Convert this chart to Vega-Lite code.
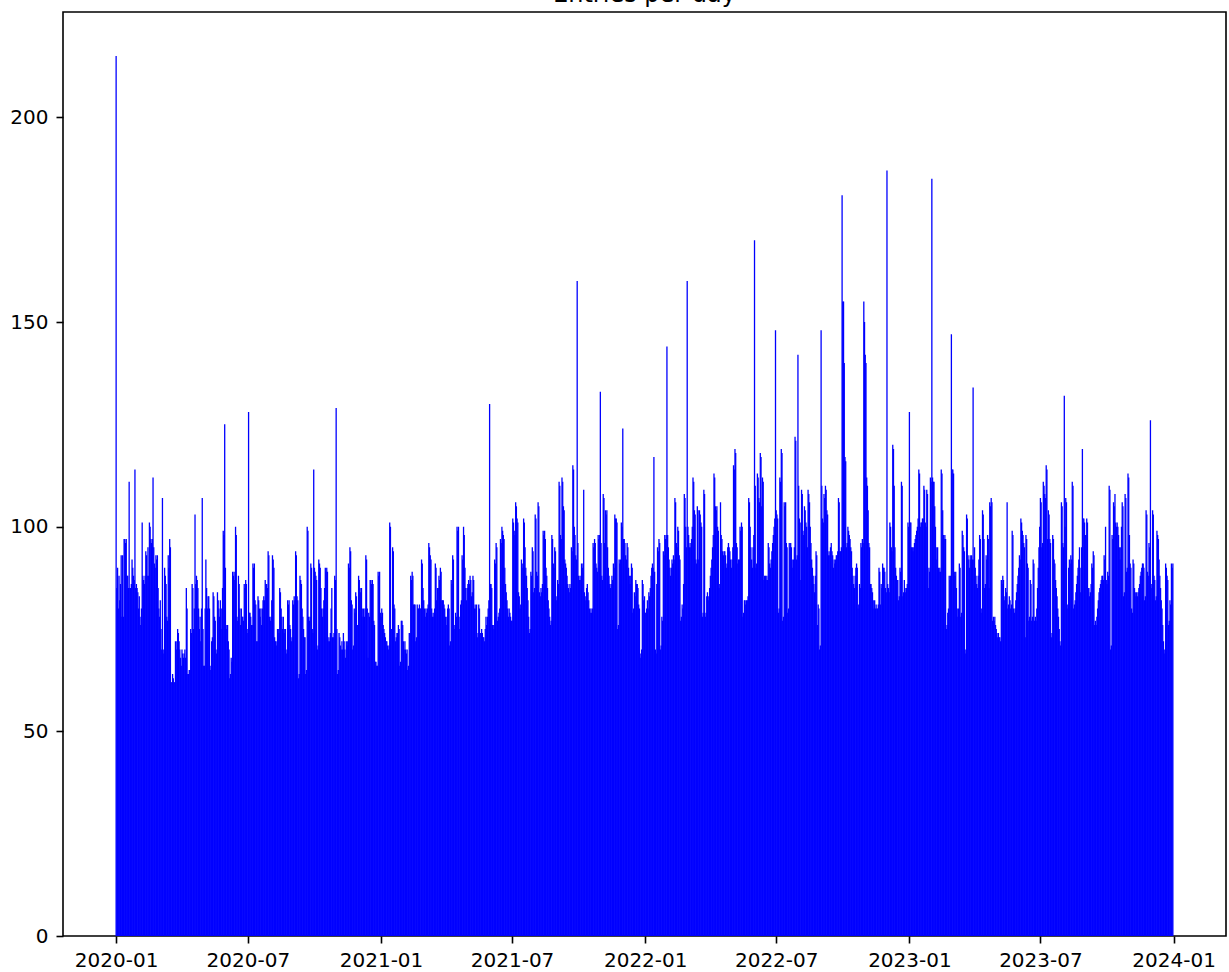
{"$schema":"https://vega.github.io/schema/vega-lite/v6.json","width":1163,"height":924,"autosize":{"type":"none"},"padding":{"left":63,"top":12,"right":3,"bottom":36},"background":"white",
"title":{"text":"Entries per day","font":"DejaVu Sans","fontSize":24,"fontWeight":"normal","color":"black","anchor":"middle","baseline":"alphabetic","offset":-14},
"config":{"view":{"stroke":"black","strokeWidth":1.6},"axis":{"domain":false,"grid":false,"ticks":true,"tickColor":"black","tickWidth":1.6,"tickSize":7,"labelFont":"DejaVu Sans","labelFontSize":20,"labelColor":"black","title":null,"labelOverlap":false,"labelFlush":false}},
"data":{"values":[
{"d":"2020-01-01","v":215},{"d":"2020-01-02","v":85},{"d":"2020-01-03","v":90},{"d":"2020-01-04","v":80},{"d":"2020-01-05","v":88},{"d":"2020-01-06","v":82},{"d":"2020-01-07","v":86},{"d":"2020-01-08","v":93},{"d":"2020-01-09","v":78},{"d":"2020-01-10","v":93},{"d":"2020-01-11","v":78},{"d":"2020-01-12","v":97},{"d":"2020-01-13","v":97},{"d":"2020-01-14","v":96},{"d":"2020-01-15","v":97},{"d":"2020-01-16","v":88},{"d":"2020-01-17","v":88},{"d":"2020-01-18","v":85},{"d":"2020-01-19","v":111},{"d":"2020-01-20","v":85},{"d":"2020-01-21","v":85},{"d":"2020-01-22","v":86},{"d":"2020-01-23","v":92},{"d":"2020-01-24","v":90},{"d":"2020-01-25","v":88},{"d":"2020-01-26","v":87},{"d":"2020-01-27","v":114},{"d":"2020-01-28","v":85},{"d":"2020-01-29","v":86},{"d":"2020-01-30","v":85},{"d":"2020-01-31","v":84},
{"d":"2020-02-01","v":80},{"d":"2020-02-02","v":83},{"d":"2020-02-03","v":78},{"d":"2020-02-04","v":76},{"d":"2020-02-05","v":80},{"d":"2020-02-06","v":101},{"d":"2020-02-07","v":88},{"d":"2020-02-08","v":87},{"d":"2020-02-09","v":86},{"d":"2020-02-10","v":88},{"d":"2020-02-11","v":94},{"d":"2020-02-12","v":93},{"d":"2020-02-13","v":88},{"d":"2020-02-14","v":95},{"d":"2020-02-15","v":88},{"d":"2020-02-16","v":101},{"d":"2020-02-17","v":100},{"d":"2020-02-18","v":97},{"d":"2020-02-19","v":96},{"d":"2020-02-20","v":97},{"d":"2020-02-21","v":112},{"d":"2020-02-22","v":95},{"d":"2020-02-23","v":91},{"d":"2020-02-24","v":90},{"d":"2020-02-25","v":93},{"d":"2020-02-26","v":92},{"d":"2020-02-27","v":93},{"d":"2020-02-28","v":85},{"d":"2020-02-29","v":80},
{"d":"2020-03-01","v":78},{"d":"2020-03-02","v":82},{"d":"2020-03-03","v":75},{"d":"2020-03-04","v":70},{"d":"2020-03-05","v":107},{"d":"2020-03-06","v":70},{"d":"2020-03-07","v":69},{"d":"2020-03-08","v":90},{"d":"2020-03-09","v":88},{"d":"2020-03-10","v":86},{"d":"2020-03-11","v":78},{"d":"2020-03-12","v":77},{"d":"2020-03-13","v":93},{"d":"2020-03-14","v":90},{"d":"2020-03-15","v":97},{"d":"2020-03-16","v":95},{"d":"2020-03-17","v":62},{"d":"2020-03-18","v":62},{"d":"2020-03-19","v":64},{"d":"2020-03-20","v":63},{"d":"2020-03-21","v":62},{"d":"2020-03-22","v":62},{"d":"2020-03-23","v":72},{"d":"2020-03-24","v":70},{"d":"2020-03-25","v":72},{"d":"2020-03-26","v":75},{"d":"2020-03-27","v":74},{"d":"2020-03-28","v":72},{"d":"2020-03-29","v":70},{"d":"2020-03-30","v":68},{"d":"2020-03-31","v":66},
{"d":"2020-04-01","v":70},{"d":"2020-04-02","v":69},{"d":"2020-04-03","v":68},{"d":"2020-04-04","v":69},{"d":"2020-04-05","v":70},{"d":"2020-04-06","v":68},{"d":"2020-04-07","v":85},{"d":"2020-04-08","v":80},{"d":"2020-04-09","v":64},{"d":"2020-04-10","v":64},{"d":"2020-04-11","v":65},{"d":"2020-04-12","v":65},{"d":"2020-04-13","v":75},{"d":"2020-04-14","v":74},{"d":"2020-04-15","v":86},{"d":"2020-04-16","v":85},{"d":"2020-04-17","v":75},{"d":"2020-04-18","v":80},{"d":"2020-04-19","v":103},{"d":"2020-04-20","v":86},{"d":"2020-04-21","v":88},{"d":"2020-04-22","v":87},{"d":"2020-04-23","v":85},{"d":"2020-04-24","v":80},{"d":"2020-04-25","v":75},{"d":"2020-04-26","v":78},{"d":"2020-04-27","v":72},{"d":"2020-04-28","v":80},{"d":"2020-04-29","v":107},{"d":"2020-04-30","v":75},
{"d":"2020-05-01","v":66},{"d":"2020-05-02","v":66},{"d":"2020-05-03","v":80},{"d":"2020-05-04","v":92},{"d":"2020-05-05","v":85},{"d":"2020-05-06","v":80},{"d":"2020-05-07","v":83},{"d":"2020-05-08","v":83},{"d":"2020-05-09","v":80},{"d":"2020-05-10","v":65},{"d":"2020-05-11","v":66},{"d":"2020-05-12","v":72},{"d":"2020-05-13","v":73},{"d":"2020-05-14","v":84},{"d":"2020-05-15","v":83},{"d":"2020-05-16","v":78},{"d":"2020-05-17","v":77},{"d":"2020-05-18","v":70},{"d":"2020-05-19","v":69},{"d":"2020-05-20","v":84},{"d":"2020-05-21","v":82},{"d":"2020-05-22","v":80},{"d":"2020-05-23","v":78},{"d":"2020-05-24","v":82},{"d":"2020-05-25","v":75},{"d":"2020-05-26","v":80},{"d":"2020-05-27","v":85},{"d":"2020-05-28","v":99},{"d":"2020-05-29","v":98},{"d":"2020-05-30","v":125},{"d":"2020-05-31","v":90},
{"d":"2020-06-01","v":76},{"d":"2020-06-02","v":75},{"d":"2020-06-03","v":76},{"d":"2020-06-04","v":72},{"d":"2020-06-05","v":70},{"d":"2020-06-06","v":63},{"d":"2020-06-07","v":64},{"d":"2020-06-08","v":68},{"d":"2020-06-09","v":67},{"d":"2020-06-10","v":89},{"d":"2020-06-11","v":88},{"d":"2020-06-12","v":89},{"d":"2020-06-13","v":87},{"d":"2020-06-14","v":100},{"d":"2020-06-15","v":98},{"d":"2020-06-16","v":78},{"d":"2020-06-17","v":77},{"d":"2020-06-18","v":88},{"d":"2020-06-19","v":86},{"d":"2020-06-20","v":80},{"d":"2020-06-21","v":76},{"d":"2020-06-22","v":80},{"d":"2020-06-23","v":78},{"d":"2020-06-24","v":78},{"d":"2020-06-25","v":77},{"d":"2020-06-26","v":86},{"d":"2020-06-27","v":85},{"d":"2020-06-28","v":87},{"d":"2020-06-29","v":86},{"d":"2020-06-30","v":75},
{"d":"2020-07-01","v":74},{"d":"2020-07-02","v":128},{"d":"2020-07-03","v":79},{"d":"2020-07-04","v":79},{"d":"2020-07-05","v":78},{"d":"2020-07-06","v":76},{"d":"2020-07-07","v":76},{"d":"2020-07-08","v":91},{"d":"2020-07-09","v":90},{"d":"2020-07-10","v":91},{"d":"2020-07-11","v":82},{"d":"2020-07-12","v":81},{"d":"2020-07-13","v":72},{"d":"2020-07-14","v":72},{"d":"2020-07-15","v":83},{"d":"2020-07-16","v":82},{"d":"2020-07-17","v":80},{"d":"2020-07-18","v":78},{"d":"2020-07-19","v":80},{"d":"2020-07-20","v":76},{"d":"2020-07-21","v":80},{"d":"2020-07-22","v":82},{"d":"2020-07-23","v":83},{"d":"2020-07-24","v":82},{"d":"2020-07-25","v":87},{"d":"2020-07-26","v":86},{"d":"2020-07-27","v":86},{"d":"2020-07-28","v":85},{"d":"2020-07-29","v":94},{"d":"2020-07-30","v":93},{"d":"2020-07-31","v":78},
{"d":"2020-08-01","v":77},{"d":"2020-08-02","v":78},{"d":"2020-08-03","v":82},{"d":"2020-08-04","v":93},{"d":"2020-08-05","v":92},{"d":"2020-08-06","v":90},{"d":"2020-08-07","v":73},{"d":"2020-08-08","v":72},{"d":"2020-08-09","v":72},{"d":"2020-08-10","v":71},{"d":"2020-08-11","v":75},{"d":"2020-08-12","v":75},{"d":"2020-08-13","v":74},{"d":"2020-08-14","v":85},{"d":"2020-08-15","v":84},{"d":"2020-08-16","v":80},{"d":"2020-08-17","v":78},{"d":"2020-08-18","v":75},{"d":"2020-08-19","v":78},{"d":"2020-08-20","v":74},{"d":"2020-08-21","v":75},{"d":"2020-08-22","v":75},{"d":"2020-08-23","v":69},{"d":"2020-08-24","v":70},{"d":"2020-08-25","v":82},{"d":"2020-08-26","v":81},{"d":"2020-08-27","v":82},{"d":"2020-08-28","v":76},{"d":"2020-08-29","v":75},{"d":"2020-08-30","v":72},{"d":"2020-08-31","v":73},
{"d":"2020-09-01","v":82},{"d":"2020-09-02","v":81},{"d":"2020-09-03","v":83},{"d":"2020-09-04","v":82},{"d":"2020-09-05","v":94},{"d":"2020-09-06","v":93},{"d":"2020-09-07","v":83},{"d":"2020-09-08","v":82},{"d":"2020-09-09","v":63},{"d":"2020-09-10","v":64},{"d":"2020-09-11","v":88},{"d":"2020-09-12","v":87},{"d":"2020-09-13","v":86},{"d":"2020-09-14","v":80},{"d":"2020-09-15","v":78},{"d":"2020-09-16","v":75},{"d":"2020-09-17","v":73},{"d":"2020-09-18","v":73},{"d":"2020-09-19","v":64},{"d":"2020-09-20","v":65},{"d":"2020-09-21","v":100},{"d":"2020-09-22","v":99},{"d":"2020-09-23","v":78},{"d":"2020-09-24","v":77},{"d":"2020-09-25","v":78},{"d":"2020-09-26","v":91},{"d":"2020-09-27","v":90},{"d":"2020-09-28","v":75},{"d":"2020-09-29","v":74},{"d":"2020-09-30","v":114},
{"d":"2020-10-01","v":90},{"d":"2020-10-02","v":89},{"d":"2020-10-03","v":88},{"d":"2020-10-04","v":87},{"d":"2020-10-05","v":70},{"d":"2020-10-06","v":71},{"d":"2020-10-07","v":92},{"d":"2020-10-08","v":91},{"d":"2020-10-09","v":90},{"d":"2020-10-10","v":85},{"d":"2020-10-11","v":80},{"d":"2020-10-12","v":78},{"d":"2020-10-13","v":80},{"d":"2020-10-14","v":82},{"d":"2020-10-15","v":85},{"d":"2020-10-16","v":90},{"d":"2020-10-17","v":89},{"d":"2020-10-18","v":90},{"d":"2020-10-19","v":89},{"d":"2020-10-20","v":72},{"d":"2020-10-21","v":73},{"d":"2020-10-22","v":72},{"d":"2020-10-23","v":74},{"d":"2020-10-24","v":80},{"d":"2020-10-25","v":85},{"d":"2020-10-26","v":73},{"d":"2020-10-27","v":73},{"d":"2020-10-28","v":74},{"d":"2020-10-29","v":88},{"d":"2020-10-30","v":87},{"d":"2020-10-31","v":129},
{"d":"2020-11-01","v":75},{"d":"2020-11-02","v":64},{"d":"2020-11-03","v":65},{"d":"2020-11-04","v":74},{"d":"2020-11-05","v":73},{"d":"2020-11-06","v":71},{"d":"2020-11-07","v":70},{"d":"2020-11-08","v":72},{"d":"2020-11-09","v":70},{"d":"2020-11-10","v":74},{"d":"2020-11-11","v":72},{"d":"2020-11-12","v":70},{"d":"2020-11-13","v":68},{"d":"2020-11-14","v":72},{"d":"2020-11-15","v":71},{"d":"2020-11-16","v":72},{"d":"2020-11-17","v":91},{"d":"2020-11-18","v":90},{"d":"2020-11-19","v":95},{"d":"2020-11-20","v":94},{"d":"2020-11-21","v":82},{"d":"2020-11-22","v":81},{"d":"2020-11-23","v":70},{"d":"2020-11-24","v":71},{"d":"2020-11-25","v":80},{"d":"2020-11-26","v":79},{"d":"2020-11-27","v":84},{"d":"2020-11-28","v":83},{"d":"2020-11-29","v":76},{"d":"2020-11-30","v":76},
{"d":"2020-12-01","v":88},{"d":"2020-12-02","v":87},{"d":"2020-12-03","v":85},{"d":"2020-12-04","v":84},{"d":"2020-12-05","v":85},{"d":"2020-12-06","v":80},{"d":"2020-12-07","v":78},{"d":"2020-12-08","v":80},{"d":"2020-12-09","v":78},{"d":"2020-12-10","v":80},{"d":"2020-12-11","v":93},{"d":"2020-12-12","v":92},{"d":"2020-12-13","v":80},{"d":"2020-12-14","v":68},{"d":"2020-12-15","v":79},{"d":"2020-12-16","v":78},{"d":"2020-12-17","v":87},{"d":"2020-12-18","v":87},{"d":"2020-12-19","v":86},{"d":"2020-12-20","v":87},{"d":"2020-12-21","v":86},{"d":"2020-12-22","v":77},{"d":"2020-12-23","v":76},{"d":"2020-12-24","v":67},{"d":"2020-12-25","v":67},{"d":"2020-12-26","v":66},{"d":"2020-12-27","v":66},{"d":"2020-12-28","v":89},{"d":"2020-12-29","v":88},{"d":"2020-12-30","v":89},{"d":"2020-12-31","v":79},
{"d":"2021-01-01","v":78},{"d":"2021-01-02","v":80},{"d":"2021-01-03","v":79},{"d":"2021-01-04","v":76},{"d":"2021-01-05","v":75},{"d":"2021-01-06","v":74},{"d":"2021-01-07","v":73},{"d":"2021-01-08","v":72},{"d":"2021-01-09","v":72},{"d":"2021-01-10","v":71},{"d":"2021-01-11","v":70},{"d":"2021-01-12","v":71},{"d":"2021-01-13","v":101},{"d":"2021-01-14","v":100},{"d":"2021-01-15","v":75},{"d":"2021-01-16","v":75},{"d":"2021-01-17","v":95},{"d":"2021-01-18","v":94},{"d":"2021-01-19","v":81},{"d":"2021-01-20","v":80},{"d":"2021-01-21","v":72},{"d":"2021-01-22","v":73},{"d":"2021-01-23","v":74},{"d":"2021-01-24","v":74},{"d":"2021-01-25","v":76},{"d":"2021-01-26","v":75},{"d":"2021-01-27","v":66},{"d":"2021-01-28","v":67},{"d":"2021-01-29","v":77},{"d":"2021-01-30","v":77},{"d":"2021-01-31","v":76},
{"d":"2021-02-01","v":72},{"d":"2021-02-02","v":70},{"d":"2021-02-03","v":72},{"d":"2021-02-04","v":70},{"d":"2021-02-05","v":69},{"d":"2021-02-06","v":70},{"d":"2021-02-07","v":65},{"d":"2021-02-08","v":66},{"d":"2021-02-09","v":74},{"d":"2021-02-10","v":74},{"d":"2021-02-11","v":88},{"d":"2021-02-12","v":87},{"d":"2021-02-13","v":89},{"d":"2021-02-14","v":88},{"d":"2021-02-15","v":81},{"d":"2021-02-16","v":81},{"d":"2021-02-17","v":81},{"d":"2021-02-18","v":72},{"d":"2021-02-19","v":73},{"d":"2021-02-20","v":81},{"d":"2021-02-21","v":80},{"d":"2021-02-22","v":80},{"d":"2021-02-23","v":81},{"d":"2021-02-24","v":80},{"d":"2021-02-25","v":80},{"d":"2021-02-26","v":92},{"d":"2021-02-27","v":91},{"d":"2021-02-28","v":85},
{"d":"2021-03-01","v":82},{"d":"2021-03-02","v":80},{"d":"2021-03-03","v":78},{"d":"2021-03-04","v":80},{"d":"2021-03-05","v":79},{"d":"2021-03-06","v":80},{"d":"2021-03-07","v":81},{"d":"2021-03-08","v":96},{"d":"2021-03-09","v":95},{"d":"2021-03-10","v":93},{"d":"2021-03-11","v":92},{"d":"2021-03-12","v":80},{"d":"2021-03-13","v":78},{"d":"2021-03-14","v":79},{"d":"2021-03-15","v":78},{"d":"2021-03-16","v":80},{"d":"2021-03-17","v":91},{"d":"2021-03-18","v":90},{"d":"2021-03-19","v":82},{"d":"2021-03-20","v":85},{"d":"2021-03-21","v":85},{"d":"2021-03-22","v":88},{"d":"2021-03-23","v":87},{"d":"2021-03-24","v":90},{"d":"2021-03-25","v":89},{"d":"2021-03-26","v":82},{"d":"2021-03-27","v":82},{"d":"2021-03-28","v":82},{"d":"2021-03-29","v":81},{"d":"2021-03-30","v":80},{"d":"2021-03-31","v":78},
{"d":"2021-04-01","v":76},{"d":"2021-04-02","v":78},{"d":"2021-04-03","v":80},{"d":"2021-04-04","v":81},{"d":"2021-04-05","v":80},{"d":"2021-04-06","v":71},{"d":"2021-04-07","v":72},{"d":"2021-04-08","v":87},{"d":"2021-04-09","v":86},{"d":"2021-04-10","v":93},{"d":"2021-04-11","v":92},{"d":"2021-04-12","v":75},{"d":"2021-04-13","v":76},{"d":"2021-04-14","v":79},{"d":"2021-04-15","v":78},{"d":"2021-04-16","v":100},{"d":"2021-04-17","v":99},{"d":"2021-04-18","v":100},{"d":"2021-04-19","v":75},{"d":"2021-04-20","v":78},{"d":"2021-04-21","v":81},{"d":"2021-04-22","v":82},{"d":"2021-04-23","v":93},{"d":"2021-04-24","v":92},{"d":"2021-04-25","v":100},{"d":"2021-04-26","v":98},{"d":"2021-04-27","v":90},{"d":"2021-04-28","v":85},{"d":"2021-04-29","v":82},{"d":"2021-04-30","v":85},
{"d":"2021-05-01","v":86},{"d":"2021-05-02","v":87},{"d":"2021-05-03","v":86},{"d":"2021-05-04","v":88},{"d":"2021-05-05","v":87},{"d":"2021-05-06","v":83},{"d":"2021-05-07","v":84},{"d":"2021-05-08","v":88},{"d":"2021-05-09","v":87},{"d":"2021-05-10","v":80},{"d":"2021-05-11","v":81},{"d":"2021-05-12","v":80},{"d":"2021-05-13","v":81},{"d":"2021-05-14","v":73},{"d":"2021-05-15","v":74},{"d":"2021-05-16","v":81},{"d":"2021-05-17","v":80},{"d":"2021-05-18","v":74},{"d":"2021-05-19","v":74},{"d":"2021-05-20","v":75},{"d":"2021-05-21","v":74},{"d":"2021-05-22","v":73},{"d":"2021-05-23","v":73},{"d":"2021-05-24","v":72},{"d":"2021-05-25","v":75},{"d":"2021-05-26","v":78},{"d":"2021-05-27","v":76},{"d":"2021-05-28","v":78},{"d":"2021-05-29","v":80},{"d":"2021-05-30","v":82},{"d":"2021-05-31","v":130},
{"d":"2021-06-01","v":86},{"d":"2021-06-02","v":86},{"d":"2021-06-03","v":85},{"d":"2021-06-04","v":76},{"d":"2021-06-05","v":76},{"d":"2021-06-06","v":75},{"d":"2021-06-07","v":92},{"d":"2021-06-08","v":91},{"d":"2021-06-09","v":96},{"d":"2021-06-10","v":95},{"d":"2021-06-11","v":77},{"d":"2021-06-12","v":78},{"d":"2021-06-13","v":79},{"d":"2021-06-14","v":80},{"d":"2021-06-15","v":97},{"d":"2021-06-16","v":96},{"d":"2021-06-17","v":100},{"d":"2021-06-18","v":99},{"d":"2021-06-19","v":98},{"d":"2021-06-20","v":97},{"d":"2021-06-21","v":90},{"d":"2021-06-22","v":86},{"d":"2021-06-23","v":84},{"d":"2021-06-24","v":82},{"d":"2021-06-25","v":80},{"d":"2021-06-26","v":78},{"d":"2021-06-27","v":80},{"d":"2021-06-28","v":79},{"d":"2021-06-29","v":78},{"d":"2021-06-30","v":77},
{"d":"2021-07-01","v":77},{"d":"2021-07-02","v":102},{"d":"2021-07-03","v":101},{"d":"2021-07-04","v":99},{"d":"2021-07-05","v":98},{"d":"2021-07-06","v":106},{"d":"2021-07-07","v":105},{"d":"2021-07-08","v":102},{"d":"2021-07-09","v":101},{"d":"2021-07-10","v":84},{"d":"2021-07-11","v":83},{"d":"2021-07-12","v":80},{"d":"2021-07-13","v":81},{"d":"2021-07-14","v":92},{"d":"2021-07-15","v":91},{"d":"2021-07-16","v":90},{"d":"2021-07-17","v":102},{"d":"2021-07-18","v":101},{"d":"2021-07-19","v":95},{"d":"2021-07-20","v":90},{"d":"2021-07-21","v":88},{"d":"2021-07-22","v":85},{"d":"2021-07-23","v":82},{"d":"2021-07-24","v":78},{"d":"2021-07-25","v":74},{"d":"2021-07-26","v":75},{"d":"2021-07-27","v":89},{"d":"2021-07-28","v":88},{"d":"2021-07-29","v":95},{"d":"2021-07-30","v":94},{"d":"2021-07-31","v":84},
{"d":"2021-08-01","v":85},{"d":"2021-08-02","v":103},{"d":"2021-08-03","v":102},{"d":"2021-08-04","v":89},{"d":"2021-08-05","v":88},{"d":"2021-08-06","v":106},{"d":"2021-08-07","v":105},{"d":"2021-08-08","v":84},{"d":"2021-08-09","v":83},{"d":"2021-08-10","v":85},{"d":"2021-08-11","v":84},{"d":"2021-08-12","v":86},{"d":"2021-08-13","v":99},{"d":"2021-08-14","v":98},{"d":"2021-08-15","v":99},{"d":"2021-08-16","v":97},{"d":"2021-08-17","v":90},{"d":"2021-08-18","v":88},{"d":"2021-08-19","v":85},{"d":"2021-08-20","v":82},{"d":"2021-08-21","v":80},{"d":"2021-08-22","v":78},{"d":"2021-08-23","v":76},{"d":"2021-08-24","v":77},{"d":"2021-08-25","v":98},{"d":"2021-08-26","v":97},{"d":"2021-08-27","v":91},{"d":"2021-08-28","v":90},{"d":"2021-08-29","v":95},{"d":"2021-08-30","v":94},{"d":"2021-08-31","v":82},
{"d":"2021-09-01","v":83},{"d":"2021-09-02","v":87},{"d":"2021-09-03","v":86},{"d":"2021-09-04","v":111},{"d":"2021-09-05","v":110},{"d":"2021-09-06","v":98},{"d":"2021-09-07","v":97},{"d":"2021-09-08","v":112},{"d":"2021-09-09","v":111},{"d":"2021-09-10","v":105},{"d":"2021-09-11","v":104},{"d":"2021-09-12","v":92},{"d":"2021-09-13","v":91},{"d":"2021-09-14","v":90},{"d":"2021-09-15","v":88},{"d":"2021-09-16","v":86},{"d":"2021-09-17","v":85},{"d":"2021-09-18","v":84},{"d":"2021-09-19","v":86},{"d":"2021-09-20","v":85},{"d":"2021-09-21","v":95},{"d":"2021-09-22","v":94},{"d":"2021-09-23","v":115},{"d":"2021-09-24","v":114},{"d":"2021-09-25","v":100},{"d":"2021-09-26","v":98},{"d":"2021-09-27","v":93},{"d":"2021-09-28","v":92},{"d":"2021-09-29","v":160},{"d":"2021-09-30","v":96},
{"d":"2021-10-01","v":88},{"d":"2021-10-02","v":87},{"d":"2021-10-03","v":88},{"d":"2021-10-04","v":87},{"d":"2021-10-05","v":91},{"d":"2021-10-06","v":90},{"d":"2021-10-07","v":91},{"d":"2021-10-08","v":109},{"d":"2021-10-09","v":84},{"d":"2021-10-10","v":83},{"d":"2021-10-11","v":82},{"d":"2021-10-12","v":85},{"d":"2021-10-13","v":86},{"d":"2021-10-14","v":84},{"d":"2021-10-15","v":82},{"d":"2021-10-16","v":80},{"d":"2021-10-17","v":79},{"d":"2021-10-18","v":80},{"d":"2021-10-19","v":79},{"d":"2021-10-20","v":80},{"d":"2021-10-21","v":96},{"d":"2021-10-22","v":95},{"d":"2021-10-23","v":97},{"d":"2021-10-24","v":96},{"d":"2021-10-25","v":91},{"d":"2021-10-26","v":90},{"d":"2021-10-27","v":89},{"d":"2021-10-28","v":98},{"d":"2021-10-29","v":97},{"d":"2021-10-30","v":98},{"d":"2021-10-31","v":133},
{"d":"2021-11-01","v":96},{"d":"2021-11-02","v":88},{"d":"2021-11-03","v":87},{"d":"2021-11-04","v":108},{"d":"2021-11-05","v":107},{"d":"2021-11-06","v":96},{"d":"2021-11-07","v":104},{"d":"2021-11-08","v":103},{"d":"2021-11-09","v":104},{"d":"2021-11-10","v":95},{"d":"2021-11-11","v":90},{"d":"2021-11-12","v":88},{"d":"2021-11-13","v":86},{"d":"2021-11-14","v":85},{"d":"2021-11-15","v":86},{"d":"2021-11-16","v":88},{"d":"2021-11-17","v":87},{"d":"2021-11-18","v":91},{"d":"2021-11-19","v":90},{"d":"2021-11-20","v":103},{"d":"2021-11-21","v":102},{"d":"2021-11-22","v":102},{"d":"2021-11-23","v":101},{"d":"2021-11-24","v":75},{"d":"2021-11-25","v":76},{"d":"2021-11-26","v":92},{"d":"2021-11-27","v":91},{"d":"2021-11-28","v":92},{"d":"2021-11-29","v":101},{"d":"2021-11-30","v":100},
{"d":"2021-12-01","v":124},{"d":"2021-12-02","v":97},{"d":"2021-12-03","v":97},{"d":"2021-12-04","v":96},{"d":"2021-12-05","v":93},{"d":"2021-12-06","v":92},{"d":"2021-12-07","v":96},{"d":"2021-12-08","v":95},{"d":"2021-12-09","v":90},{"d":"2021-12-10","v":88},{"d":"2021-12-11","v":86},{"d":"2021-12-12","v":88},{"d":"2021-12-13","v":91},{"d":"2021-12-14","v":90},{"d":"2021-12-15","v":79},{"d":"2021-12-16","v":80},{"d":"2021-12-17","v":84},{"d":"2021-12-18","v":83},{"d":"2021-12-19","v":87},{"d":"2021-12-20","v":86},{"d":"2021-12-21","v":86},{"d":"2021-12-22","v":85},{"d":"2021-12-23","v":81},{"d":"2021-12-24","v":80},{"d":"2021-12-25","v":68},{"d":"2021-12-26","v":69},{"d":"2021-12-27","v":70},{"d":"2021-12-28","v":87},{"d":"2021-12-29","v":86},{"d":"2021-12-30","v":82},{"d":"2021-12-31","v":83},
{"d":"2022-01-01","v":79},{"d":"2022-01-02","v":79},{"d":"2022-01-03","v":80},{"d":"2022-01-04","v":82},{"d":"2022-01-05","v":80},{"d":"2022-01-06","v":84},{"d":"2022-01-07","v":83},{"d":"2022-01-08","v":85},{"d":"2022-01-09","v":88},{"d":"2022-01-10","v":90},{"d":"2022-01-11","v":91},{"d":"2022-01-12","v":90},{"d":"2022-01-13","v":117},{"d":"2022-01-14","v":89},{"d":"2022-01-15","v":70},{"d":"2022-01-16","v":69},{"d":"2022-01-17","v":86},{"d":"2022-01-18","v":95},{"d":"2022-01-19","v":94},{"d":"2022-01-20","v":97},{"d":"2022-01-21","v":96},{"d":"2022-01-22","v":70},{"d":"2022-01-23","v":71},{"d":"2022-01-24","v":78},{"d":"2022-01-25","v":77},{"d":"2022-01-26","v":94},{"d":"2022-01-27","v":93},{"d":"2022-01-28","v":98},{"d":"2022-01-29","v":97},{"d":"2022-01-30","v":98},{"d":"2022-01-31","v":144},
{"d":"2022-02-01","v":98},{"d":"2022-02-02","v":95},{"d":"2022-02-03","v":92},{"d":"2022-02-04","v":90},{"d":"2022-02-05","v":88},{"d":"2022-02-06","v":90},{"d":"2022-02-07","v":92},{"d":"2022-02-08","v":91},{"d":"2022-02-09","v":93},{"d":"2022-02-10","v":92},{"d":"2022-02-11","v":107},{"d":"2022-02-12","v":106},{"d":"2022-02-13","v":96},{"d":"2022-02-14","v":95},{"d":"2022-02-15","v":100},{"d":"2022-02-16","v":99},{"d":"2022-02-17","v":93},{"d":"2022-02-18","v":92},{"d":"2022-02-19","v":77},{"d":"2022-02-20","v":78},{"d":"2022-02-21","v":81},{"d":"2022-02-22","v":80},{"d":"2022-02-23","v":86},{"d":"2022-02-24","v":108},{"d":"2022-02-25","v":107},{"d":"2022-02-26","v":100},{"d":"2022-02-27","v":95},{"d":"2022-02-28","v":160},
{"d":"2022-03-01","v":100},{"d":"2022-03-02","v":98},{"d":"2022-03-03","v":95},{"d":"2022-03-04","v":96},{"d":"2022-03-05","v":95},{"d":"2022-03-06","v":97},{"d":"2022-03-07","v":100},{"d":"2022-03-08","v":112},{"d":"2022-03-09","v":111},{"d":"2022-03-10","v":104},{"d":"2022-03-11","v":103},{"d":"2022-03-12","v":92},{"d":"2022-03-13","v":91},{"d":"2022-03-14","v":105},{"d":"2022-03-15","v":104},{"d":"2022-03-16","v":92},{"d":"2022-03-17","v":104},{"d":"2022-03-18","v":103},{"d":"2022-03-19","v":101},{"d":"2022-03-20","v":100},{"d":"2022-03-21","v":78},{"d":"2022-03-22","v":79},{"d":"2022-03-23","v":109},{"d":"2022-03-24","v":108},{"d":"2022-03-25","v":78},{"d":"2022-03-26","v":79},{"d":"2022-03-27","v":83},{"d":"2022-03-28","v":84},{"d":"2022-03-29","v":83},{"d":"2022-03-30","v":82},{"d":"2022-03-31","v":85},
{"d":"2022-04-01","v":88},{"d":"2022-04-02","v":90},{"d":"2022-04-03","v":92},{"d":"2022-04-04","v":95},{"d":"2022-04-05","v":98},{"d":"2022-04-06","v":113},{"d":"2022-04-07","v":112},{"d":"2022-04-08","v":105},{"d":"2022-04-09","v":104},{"d":"2022-04-10","v":105},{"d":"2022-04-11","v":100},{"d":"2022-04-12","v":99},{"d":"2022-04-13","v":85},{"d":"2022-04-14","v":86},{"d":"2022-04-15","v":106},{"d":"2022-04-16","v":98},{"d":"2022-04-17","v":97},{"d":"2022-04-18","v":94},{"d":"2022-04-19","v":93},{"d":"2022-04-20","v":94},{"d":"2022-04-21","v":94},{"d":"2022-04-22","v":93},{"d":"2022-04-23","v":90},{"d":"2022-04-24","v":91},{"d":"2022-04-25","v":95},{"d":"2022-04-26","v":96},{"d":"2022-04-27","v":95},{"d":"2022-04-28","v":94},{"d":"2022-04-29","v":92},{"d":"2022-04-30","v":90},
{"d":"2022-05-01","v":92},{"d":"2022-05-02","v":95},{"d":"2022-05-03","v":115},{"d":"2022-05-04","v":114},{"d":"2022-05-05","v":119},{"d":"2022-05-06","v":118},{"d":"2022-05-07","v":96},{"d":"2022-05-08","v":95},{"d":"2022-05-09","v":91},{"d":"2022-05-10","v":92},{"d":"2022-05-11","v":92},{"d":"2022-05-12","v":100},{"d":"2022-05-13","v":99},{"d":"2022-05-14","v":101},{"d":"2022-05-15","v":100},{"d":"2022-05-16","v":78},{"d":"2022-05-17","v":79},{"d":"2022-05-18","v":82},{"d":"2022-05-19","v":82},{"d":"2022-05-20","v":81},{"d":"2022-05-21","v":82},{"d":"2022-05-22","v":82},{"d":"2022-05-23","v":83},{"d":"2022-05-24","v":107},{"d":"2022-05-25","v":106},{"d":"2022-05-26","v":100},{"d":"2022-05-27","v":95},{"d":"2022-05-28","v":92},{"d":"2022-05-29","v":90},{"d":"2022-05-30","v":95},{"d":"2022-05-31","v":98},
{"d":"2022-06-01","v":170},{"d":"2022-06-02","v":110},{"d":"2022-06-03","v":90},{"d":"2022-06-04","v":91},{"d":"2022-06-05","v":113},{"d":"2022-06-06","v":112},{"d":"2022-06-07","v":107},{"d":"2022-06-08","v":106},{"d":"2022-06-09","v":118},{"d":"2022-06-10","v":117},{"d":"2022-06-11","v":105},{"d":"2022-06-12","v":112},{"d":"2022-06-13","v":111},{"d":"2022-06-14","v":87},{"d":"2022-06-15","v":88},{"d":"2022-06-16","v":88},{"d":"2022-06-17","v":87},{"d":"2022-06-18","v":88},{"d":"2022-06-19","v":87},{"d":"2022-06-20","v":96},{"d":"2022-06-21","v":95},{"d":"2022-06-22","v":91},{"d":"2022-06-23","v":90},{"d":"2022-06-24","v":92},{"d":"2022-06-25","v":94},{"d":"2022-06-26","v":96},{"d":"2022-06-27","v":98},{"d":"2022-06-28","v":100},{"d":"2022-06-29","v":102},{"d":"2022-06-30","v":148},
{"d":"2022-07-01","v":104},{"d":"2022-07-02","v":103},{"d":"2022-07-03","v":102},{"d":"2022-07-04","v":79},{"d":"2022-07-05","v":80},{"d":"2022-07-06","v":112},{"d":"2022-07-07","v":111},{"d":"2022-07-08","v":119},{"d":"2022-07-09","v":118},{"d":"2022-07-10","v":77},{"d":"2022-07-11","v":78},{"d":"2022-07-12","v":106},{"d":"2022-07-13","v":105},{"d":"2022-07-14","v":106},{"d":"2022-07-15","v":96},{"d":"2022-07-16","v":95},{"d":"2022-07-17","v":79},{"d":"2022-07-18","v":80},{"d":"2022-07-19","v":96},{"d":"2022-07-20","v":95},{"d":"2022-07-21","v":96},{"d":"2022-07-22","v":95},{"d":"2022-07-23","v":92},{"d":"2022-07-24","v":90},{"d":"2022-07-25","v":92},{"d":"2022-07-26","v":95},{"d":"2022-07-27","v":122},{"d":"2022-07-28","v":121},{"d":"2022-07-29","v":92},{"d":"2022-07-30","v":93},{"d":"2022-07-31","v":142},
{"d":"2022-08-01","v":110},{"d":"2022-08-02","v":102},{"d":"2022-08-03","v":101},{"d":"2022-08-04","v":87},{"d":"2022-08-05","v":109},{"d":"2022-08-06","v":108},{"d":"2022-08-07","v":99},{"d":"2022-08-08","v":98},{"d":"2022-08-09","v":105},{"d":"2022-08-10","v":104},{"d":"2022-08-11","v":101},{"d":"2022-08-12","v":100},{"d":"2022-08-13","v":95},{"d":"2022-08-14","v":109},{"d":"2022-08-15","v":108},{"d":"2022-08-16","v":106},{"d":"2022-08-17","v":100},{"d":"2022-08-18","v":96},{"d":"2022-08-19","v":92},{"d":"2022-08-20","v":90},{"d":"2022-08-21","v":88},{"d":"2022-08-22","v":86},{"d":"2022-08-23","v":84},{"d":"2022-08-24","v":88},{"d":"2022-08-25","v":94},{"d":"2022-08-26","v":93},{"d":"2022-08-27","v":76},{"d":"2022-08-28","v":81},{"d":"2022-08-29","v":80},{"d":"2022-08-30","v":70},{"d":"2022-08-31","v":71},
{"d":"2022-09-01","v":148},{"d":"2022-09-02","v":110},{"d":"2022-09-03","v":102},{"d":"2022-09-04","v":101},{"d":"2022-09-05","v":108},{"d":"2022-09-06","v":107},{"d":"2022-09-07","v":110},{"d":"2022-09-08","v":109},{"d":"2022-09-09","v":104},{"d":"2022-09-10","v":103},{"d":"2022-09-11","v":93},{"d":"2022-09-12","v":94},{"d":"2022-09-13","v":93},{"d":"2022-09-14","v":95},{"d":"2022-09-15","v":96},{"d":"2022-09-16","v":94},{"d":"2022-09-17","v":93},{"d":"2022-09-18","v":90},{"d":"2022-09-19","v":92},{"d":"2022-09-20","v":91},{"d":"2022-09-21","v":92},{"d":"2022-09-22","v":93},{"d":"2022-09-23","v":93},{"d":"2022-09-24","v":94},{"d":"2022-09-25","v":107},{"d":"2022-09-26","v":106},{"d":"2022-09-27","v":94},{"d":"2022-09-28","v":94},{"d":"2022-09-29","v":95},{"d":"2022-09-30","v":181},
{"d":"2022-10-01","v":155},{"d":"2022-10-02","v":155},{"d":"2022-10-03","v":140},{"d":"2022-10-04","v":117},{"d":"2022-10-05","v":116},{"d":"2022-10-06","v":95},{"d":"2022-10-07","v":96},{"d":"2022-10-08","v":100},{"d":"2022-10-09","v":99},{"d":"2022-10-10","v":98},{"d":"2022-10-11","v":97},{"d":"2022-10-12","v":95},{"d":"2022-10-13","v":94},{"d":"2022-10-14","v":90},{"d":"2022-10-15","v":88},{"d":"2022-10-16","v":86},{"d":"2022-10-17","v":85},{"d":"2022-10-18","v":88},{"d":"2022-10-19","v":90},{"d":"2022-10-20","v":91},{"d":"2022-10-21","v":90},{"d":"2022-10-22","v":80},{"d":"2022-10-23","v":81},{"d":"2022-10-24","v":86},{"d":"2022-10-25","v":85},{"d":"2022-10-26","v":96},{"d":"2022-10-27","v":95},{"d":"2022-10-28","v":97},{"d":"2022-10-29","v":96},{"d":"2022-10-30","v":155},{"d":"2022-10-31","v":150},
{"d":"2022-11-01","v":142},{"d":"2022-11-02","v":140},{"d":"2022-11-03","v":112},{"d":"2022-11-04","v":110},{"d":"2022-11-05","v":104},{"d":"2022-11-06","v":96},{"d":"2022-11-07","v":95},{"d":"2022-11-08","v":86},{"d":"2022-11-09","v":86},{"d":"2022-11-10","v":85},{"d":"2022-11-11","v":84},{"d":"2022-11-12","v":82},{"d":"2022-11-13","v":80},{"d":"2022-11-14","v":82},{"d":"2022-11-15","v":80},{"d":"2022-11-16","v":81},{"d":"2022-11-17","v":80},{"d":"2022-11-18","v":80},{"d":"2022-11-19","v":81},{"d":"2022-11-20","v":90},{"d":"2022-11-21","v":89},{"d":"2022-11-22","v":81},{"d":"2022-11-23","v":86},{"d":"2022-11-24","v":85},{"d":"2022-11-25","v":91},{"d":"2022-11-26","v":90},{"d":"2022-11-27","v":90},{"d":"2022-11-28","v":89},{"d":"2022-11-29","v":85},{"d":"2022-11-30","v":84},
{"d":"2022-12-01","v":187},{"d":"2022-12-02","v":86},{"d":"2022-12-03","v":85},{"d":"2022-12-04","v":84},{"d":"2022-12-05","v":101},{"d":"2022-12-06","v":100},{"d":"2022-12-07","v":95},{"d":"2022-12-08","v":94},{"d":"2022-12-09","v":120},{"d":"2022-12-10","v":119},{"d":"2022-12-11","v":110},{"d":"2022-12-12","v":95},{"d":"2022-12-13","v":90},{"d":"2022-12-14","v":88},{"d":"2022-12-15","v":87},{"d":"2022-12-16","v":87},{"d":"2022-12-17","v":82},{"d":"2022-12-18","v":83},{"d":"2022-12-19","v":90},{"d":"2022-12-20","v":89},{"d":"2022-12-21","v":111},{"d":"2022-12-22","v":110},{"d":"2022-12-23","v":83},{"d":"2022-12-24","v":84},{"d":"2022-12-25","v":87},{"d":"2022-12-26","v":85},{"d":"2022-12-27","v":84},{"d":"2022-12-28","v":85},{"d":"2022-12-29","v":86},{"d":"2022-12-30","v":101},{"d":"2022-12-31","v":100},
{"d":"2023-01-01","v":128},{"d":"2023-01-02","v":101},{"d":"2023-01-03","v":101},{"d":"2023-01-04","v":95},{"d":"2023-01-05","v":95},{"d":"2023-01-06","v":94},{"d":"2023-01-07","v":95},{"d":"2023-01-08","v":96},{"d":"2023-01-09","v":97},{"d":"2023-01-10","v":98},{"d":"2023-01-11","v":99},{"d":"2023-01-12","v":100},{"d":"2023-01-13","v":102},{"d":"2023-01-14","v":114},{"d":"2023-01-15","v":113},{"d":"2023-01-16","v":100},{"d":"2023-01-17","v":101},{"d":"2023-01-18","v":101},{"d":"2023-01-19","v":102},{"d":"2023-01-20","v":102},{"d":"2023-01-21","v":110},{"d":"2023-01-22","v":109},{"d":"2023-01-23","v":101},{"d":"2023-01-24","v":100},{"d":"2023-01-25","v":109},{"d":"2023-01-26","v":108},{"d":"2023-01-27","v":85},{"d":"2023-01-28","v":90},{"d":"2023-01-29","v":89},{"d":"2023-01-30","v":112},{"d":"2023-01-31","v":111},
{"d":"2023-02-01","v":185},{"d":"2023-02-02","v":112},{"d":"2023-02-03","v":111},{"d":"2023-02-04","v":111},{"d":"2023-02-05","v":105},{"d":"2023-02-06","v":100},{"d":"2023-02-07","v":95},{"d":"2023-02-08","v":92},{"d":"2023-02-09","v":95},{"d":"2023-02-10","v":90},{"d":"2023-02-11","v":89},{"d":"2023-02-12","v":90},{"d":"2023-02-13","v":89},{"d":"2023-02-14","v":114},{"d":"2023-02-15","v":113},{"d":"2023-02-16","v":104},{"d":"2023-02-17","v":98},{"d":"2023-02-18","v":97},{"d":"2023-02-19","v":98},{"d":"2023-02-20","v":97},{"d":"2023-02-21","v":75},{"d":"2023-02-22","v":76},{"d":"2023-02-23","v":79},{"d":"2023-02-24","v":80},{"d":"2023-02-25","v":88},{"d":"2023-02-26","v":87},{"d":"2023-02-27","v":88},{"d":"2023-02-28","v":147},
{"d":"2023-03-01","v":114},{"d":"2023-03-02","v":114},{"d":"2023-03-03","v":113},{"d":"2023-03-04","v":89},{"d":"2023-03-05","v":88},{"d":"2023-03-06","v":89},{"d":"2023-03-07","v":85},{"d":"2023-03-08","v":80},{"d":"2023-03-09","v":78},{"d":"2023-03-10","v":80},{"d":"2023-03-11","v":91},{"d":"2023-03-12","v":90},{"d":"2023-03-13","v":78},{"d":"2023-03-14","v":79},{"d":"2023-03-15","v":99},{"d":"2023-03-16","v":98},{"d":"2023-03-17","v":95},{"d":"2023-03-18","v":94},{"d":"2023-03-19","v":69},{"d":"2023-03-20","v":70},{"d":"2023-03-21","v":103},{"d":"2023-03-22","v":102},{"d":"2023-03-23","v":93},{"d":"2023-03-24","v":92},{"d":"2023-03-25","v":90},{"d":"2023-03-26","v":93},{"d":"2023-03-27","v":92},{"d":"2023-03-28","v":93},{"d":"2023-03-29","v":92},{"d":"2023-03-30","v":134},{"d":"2023-03-31","v":92},
{"d":"2023-04-01","v":95},{"d":"2023-04-02","v":90},{"d":"2023-04-03","v":88},{"d":"2023-04-04","v":86},{"d":"2023-04-05","v":85},{"d":"2023-04-06","v":88},{"d":"2023-04-07","v":92},{"d":"2023-04-08","v":98},{"d":"2023-04-09","v":97},{"d":"2023-04-10","v":79},{"d":"2023-04-11","v":80},{"d":"2023-04-12","v":104},{"d":"2023-04-13","v":103},{"d":"2023-04-14","v":97},{"d":"2023-04-15","v":85},{"d":"2023-04-16","v":86},{"d":"2023-04-17","v":93},{"d":"2023-04-18","v":92},{"d":"2023-04-19","v":98},{"d":"2023-04-20","v":97},{"d":"2023-04-21","v":85},{"d":"2023-04-22","v":106},{"d":"2023-04-23","v":105},{"d":"2023-04-24","v":107},{"d":"2023-04-25","v":106},{"d":"2023-04-26","v":77},{"d":"2023-04-27","v":78},{"d":"2023-04-28","v":77},{"d":"2023-04-29","v":78},{"d":"2023-04-30","v":76},
{"d":"2023-05-01","v":75},{"d":"2023-05-02","v":74},{"d":"2023-05-03","v":73},{"d":"2023-05-04","v":74},{"d":"2023-05-05","v":73},{"d":"2023-05-06","v":73},{"d":"2023-05-07","v":72},{"d":"2023-05-08","v":87},{"d":"2023-05-09","v":86},{"d":"2023-05-10","v":88},{"d":"2023-05-11","v":87},{"d":"2023-05-12","v":82},{"d":"2023-05-13","v":83},{"d":"2023-05-14","v":85},{"d":"2023-05-15","v":84},{"d":"2023-05-16","v":106},{"d":"2023-05-17","v":80},{"d":"2023-05-18","v":81},{"d":"2023-05-19","v":83},{"d":"2023-05-20","v":82},{"d":"2023-05-21","v":80},{"d":"2023-05-22","v":81},{"d":"2023-05-23","v":99},{"d":"2023-05-24","v":98},{"d":"2023-05-25","v":80},{"d":"2023-05-26","v":79},{"d":"2023-05-27","v":80},{"d":"2023-05-28","v":82},{"d":"2023-05-29","v":84},{"d":"2023-05-30","v":86},{"d":"2023-05-31","v":88},
{"d":"2023-06-01","v":90},{"d":"2023-06-02","v":93},{"d":"2023-06-03","v":92},{"d":"2023-06-04","v":102},{"d":"2023-06-05","v":101},{"d":"2023-06-06","v":99},{"d":"2023-06-07","v":98},{"d":"2023-06-08","v":96},{"d":"2023-06-09","v":95},{"d":"2023-06-10","v":73},{"d":"2023-06-11","v":98},{"d":"2023-06-12","v":97},{"d":"2023-06-13","v":91},{"d":"2023-06-14","v":90},{"d":"2023-06-15","v":77},{"d":"2023-06-16","v":78},{"d":"2023-06-17","v":87},{"d":"2023-06-18","v":86},{"d":"2023-06-19","v":77},{"d":"2023-06-20","v":78},{"d":"2023-06-21","v":92},{"d":"2023-06-22","v":91},{"d":"2023-06-23","v":77},{"d":"2023-06-24","v":78},{"d":"2023-06-25","v":77},{"d":"2023-06-26","v":80},{"d":"2023-06-27","v":85},{"d":"2023-06-28","v":90},{"d":"2023-06-29","v":95},{"d":"2023-06-30","v":100},
{"d":"2023-07-01","v":107},{"d":"2023-07-02","v":106},{"d":"2023-07-03","v":95},{"d":"2023-07-04","v":96},{"d":"2023-07-05","v":111},{"d":"2023-07-06","v":110},{"d":"2023-07-07","v":108},{"d":"2023-07-08","v":107},{"d":"2023-07-09","v":115},{"d":"2023-07-10","v":114},{"d":"2023-07-11","v":97},{"d":"2023-07-12","v":104},{"d":"2023-07-13","v":103},{"d":"2023-07-14","v":97},{"d":"2023-07-15","v":96},{"d":"2023-07-16","v":73},{"d":"2023-07-17","v":74},{"d":"2023-07-18","v":98},{"d":"2023-07-19","v":97},{"d":"2023-07-20","v":92},{"d":"2023-07-21","v":91},{"d":"2023-07-22","v":87},{"d":"2023-07-23","v":85},{"d":"2023-07-24","v":83},{"d":"2023-07-25","v":80},{"d":"2023-07-26","v":78},{"d":"2023-07-27","v":75},{"d":"2023-07-28","v":72},{"d":"2023-07-29","v":71},{"d":"2023-07-30","v":106},{"d":"2023-07-31","v":105},
{"d":"2023-08-01","v":96},{"d":"2023-08-02","v":95},{"d":"2023-08-03","v":132},{"d":"2023-08-04","v":100},{"d":"2023-08-05","v":107},{"d":"2023-08-06","v":106},{"d":"2023-08-07","v":81},{"d":"2023-08-08","v":80},{"d":"2023-08-09","v":90},{"d":"2023-08-10","v":92},{"d":"2023-08-11","v":91},{"d":"2023-08-12","v":93},{"d":"2023-08-13","v":92},{"d":"2023-08-14","v":111},{"d":"2023-08-15","v":110},{"d":"2023-08-16","v":80},{"d":"2023-08-17","v":81},{"d":"2023-08-18","v":82},{"d":"2023-08-19","v":84},{"d":"2023-08-20","v":86},{"d":"2023-08-21","v":88},{"d":"2023-08-22","v":90},{"d":"2023-08-23","v":92},{"d":"2023-08-24","v":95},{"d":"2023-08-25","v":84},{"d":"2023-08-26","v":90},{"d":"2023-08-27","v":95},{"d":"2023-08-28","v":119},{"d":"2023-08-29","v":102},{"d":"2023-08-30","v":102},{"d":"2023-08-31","v":101},
{"d":"2023-09-01","v":98},{"d":"2023-09-02","v":98},{"d":"2023-09-03","v":102},{"d":"2023-09-04","v":101},{"d":"2023-09-05","v":85},{"d":"2023-09-06","v":85},{"d":"2023-09-07","v":83},{"d":"2023-09-08","v":84},{"d":"2023-09-09","v":86},{"d":"2023-09-10","v":91},{"d":"2023-09-11","v":90},{"d":"2023-09-12","v":94},{"d":"2023-09-13","v":93},{"d":"2023-09-14","v":76},{"d":"2023-09-15","v":77},{"d":"2023-09-16","v":76},{"d":"2023-09-17","v":78},{"d":"2023-09-18","v":80},{"d":"2023-09-19","v":82},{"d":"2023-09-20","v":84},{"d":"2023-09-21","v":85},{"d":"2023-09-22","v":86},{"d":"2023-09-23","v":87},{"d":"2023-09-24","v":88},{"d":"2023-09-25","v":88},{"d":"2023-09-26","v":87},{"d":"2023-09-27","v":93},{"d":"2023-09-28","v":92},{"d":"2023-09-29","v":100},{"d":"2023-09-30","v":87},
{"d":"2023-10-01","v":86},{"d":"2023-10-02","v":89},{"d":"2023-10-03","v":88},{"d":"2023-10-04","v":110},{"d":"2023-10-05","v":109},{"d":"2023-10-06","v":70},{"d":"2023-10-07","v":71},{"d":"2023-10-08","v":98},{"d":"2023-10-09","v":97},{"d":"2023-10-10","v":106},{"d":"2023-10-11","v":105},{"d":"2023-10-12","v":108},{"d":"2023-10-13","v":101},{"d":"2023-10-14","v":100},{"d":"2023-10-15","v":101},{"d":"2023-10-16","v":100},{"d":"2023-10-17","v":98},{"d":"2023-10-18","v":95},{"d":"2023-10-19","v":92},{"d":"2023-10-20","v":95},{"d":"2023-10-21","v":100},{"d":"2023-10-22","v":106},{"d":"2023-10-23","v":105},{"d":"2023-10-24","v":83},{"d":"2023-10-25","v":84},{"d":"2023-10-26","v":108},{"d":"2023-10-27","v":107},{"d":"2023-10-28","v":89},{"d":"2023-10-29","v":90},{"d":"2023-10-30","v":113},{"d":"2023-10-31","v":112},
{"d":"2023-11-01","v":98},{"d":"2023-11-02","v":91},{"d":"2023-11-03","v":90},{"d":"2023-11-04","v":80},{"d":"2023-11-05","v":79},{"d":"2023-11-06","v":92},{"d":"2023-11-07","v":91},{"d":"2023-11-08","v":85},{"d":"2023-11-09","v":84},{"d":"2023-11-10","v":83},{"d":"2023-11-11","v":84},{"d":"2023-11-12","v":83},{"d":"2023-11-13","v":84},{"d":"2023-11-14","v":85},{"d":"2023-11-15","v":86},{"d":"2023-11-16","v":88},{"d":"2023-11-17","v":89},{"d":"2023-11-18","v":90},{"d":"2023-11-19","v":91},{"d":"2023-11-20","v":91},{"d":"2023-11-21","v":90},{"d":"2023-11-22","v":82},{"d":"2023-11-23","v":83},{"d":"2023-11-24","v":104},{"d":"2023-11-25","v":103},{"d":"2023-11-26","v":89},{"d":"2023-11-27","v":88},{"d":"2023-11-28","v":96},{"d":"2023-11-29","v":95},{"d":"2023-11-30","v":126},
{"d":"2023-12-01","v":86},{"d":"2023-12-02","v":85},{"d":"2023-12-03","v":104},{"d":"2023-12-04","v":103},{"d":"2023-12-05","v":88},{"d":"2023-12-06","v":87},{"d":"2023-12-07","v":82},{"d":"2023-12-08","v":83},{"d":"2023-12-09","v":99},{"d":"2023-12-10","v":98},{"d":"2023-12-11","v":97},{"d":"2023-12-12","v":92},{"d":"2023-12-13","v":88},{"d":"2023-12-14","v":85},{"d":"2023-12-15","v":82},{"d":"2023-12-16","v":80},{"d":"2023-12-17","v":76},{"d":"2023-12-18","v":72},{"d":"2023-12-19","v":70},{"d":"2023-12-20","v":69},{"d":"2023-12-21","v":91},{"d":"2023-12-22","v":90},{"d":"2023-12-23","v":88},{"d":"2023-12-24","v":87},{"d":"2023-12-25","v":76},{"d":"2023-12-26","v":77},{"d":"2023-12-27","v":82},{"d":"2023-12-28","v":81},{"d":"2023-12-29","v":91},{"d":"2023-12-30","v":90},{"d":"2023-12-31","v":91}
]},
"mark":{"type":"bar","color":"#0000ff","width":1.3},
"encoding":{
"x":{"field":"d","type":"temporal","scale":{"type":"utc","padding":0,"domain":[{"year":2019,"month":10,"date":19,"hours":14,"minutes":24,"utc":true},{"year":2024,"month":3,"date":13,"hours":9,"minutes":36,"utc":true}]},
"axis":{"labelExpr":"utcFormat(datum.value, '%Y-%m')","labelPadding":7,"values":[{"year":2020,"month":1,"date":1,"utc":true},{"year":2020,"month":7,"date":1,"utc":true},{"year":2021,"month":1,"date":1,"utc":true},{"year":2021,"month":7,"date":1,"utc":true},{"year":2022,"month":1,"date":1,"utc":true},{"year":2022,"month":7,"date":1,"utc":true},{"year":2023,"month":1,"date":1,"utc":true},{"year":2023,"month":7,"date":1,"utc":true},{"year":2024,"month":1,"date":1,"utc":true}]}},
"y":{"field":"v","type":"quantitative","scale":{"domain":[0,225.75],"nice":false,"zero":true},"axis":{"values":[0,50,100,150,200],"labelPadding":8}}
}}
